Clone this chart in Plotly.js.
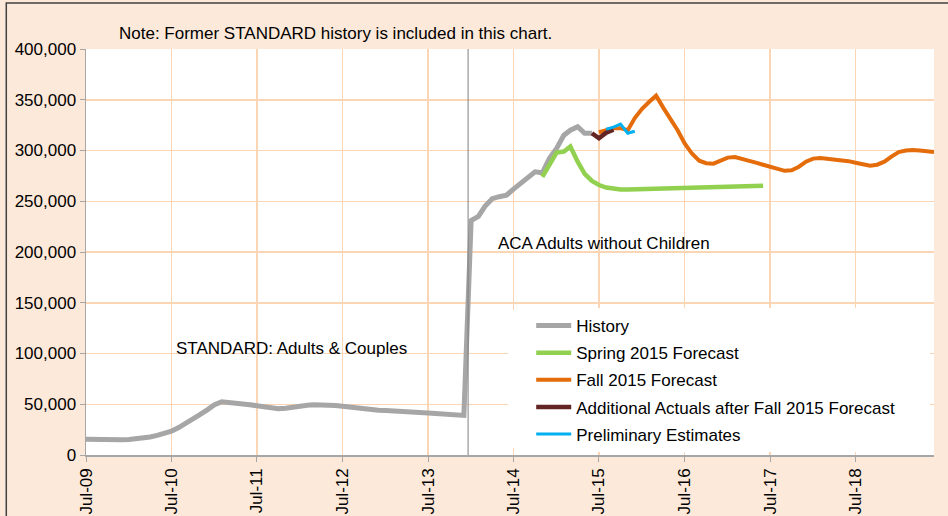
<!DOCTYPE html>
<html>
<head>
<meta charset="utf-8">
<script src="https://cdn.plot.ly/plotly-3.0.1.min.js"></script>
<style>html,body{margin:0;padding:0;background:#FDE9D9;}#chart{width:948px;height:516px;}</style>
</head>
<body>
<div id="chart"></div>
<script>
// Monthly categories, Jul-2009 .. Jun-2019
const months = [
 "2009-07","2009-08","2009-09","2009-10","2009-11","2009-12","2010-01","2010-02","2010-03","2010-04","2010-05","2010-06",
 "2010-07","2010-08","2010-09","2010-10","2010-11","2010-12","2011-01","2011-02","2011-03","2011-04","2011-05","2011-06",
 "2011-07","2011-08","2011-09","2011-10","2011-11","2011-12","2012-01","2012-02","2012-03","2012-04","2012-05","2012-06",
 "2012-07","2012-08","2012-09","2012-10","2012-11","2012-12","2013-01","2013-02","2013-03","2013-04","2013-05","2013-06",
 "2013-07","2013-08","2013-09","2013-10","2013-11","2013-12","2014-01","2014-02","2014-03","2014-04","2014-05","2014-06",
 "2014-07","2014-08","2014-09","2014-10","2014-11","2014-12","2015-01","2015-02","2015-03","2015-04","2015-05","2015-06",
 "2015-07","2015-08","2015-09","2015-10","2015-11","2015-12","2016-01","2016-02","2016-03","2016-04","2016-05","2016-06",
 "2016-07","2016-08","2016-09","2016-10","2016-11","2016-12","2017-01","2017-02","2017-03","2017-04","2017-05","2017-06",
 "2017-07","2017-08","2017-09","2017-10","2017-11","2017-12","2018-01","2018-02","2018-03","2018-04","2018-05","2018-06",
 "2018-07","2018-08","2018-09","2018-10","2018-11","2018-12","2019-01","2019-02","2019-03","2019-04","2019-05","2019-06"
];

// Series (values in caseload), each starts at the given month index
const historyStart = 0;
const historyVals = [
 15500,15200,15000,15000,15000,15100,15300,15800,16600,17800,19300,21000,
 23500,27000,31000,35500,40000,44500,49500,52500,52000,51200,50500,49500,
 48500,47200,46000,45500,46000,47200,48300,49000,49500,49500,49300,48800,
 48000,47000,46000,45000,44300,44000,43800,43600,43300,43000,42600,42200,
 41500,41000,40500,40000,39600,39000,231000,235000,245000,252500,254500,256000,
 262000,268000,273000,279000,278000,292000,302000,315000,320000,323500,317000,317000
];

const springStart = 64;
const springVals = [
 274000,286000,298000,299000,304000,289000,277000,270000,266000,263500,262000,261500,
 261600,261800,262000,262200,262400,262600,262800,263000,263200,263300,263500,263700,
 263900,264100,264300,264500,264600,264800,265000,265200
];

const fallStart = 72;
const fallVals = [
 318000,320000,322000,322000,320000,332000,341000,348000,354000,342000,331000,320000,
 307000,297000,290000,287500,287000,290000,293000,293500,292000,290000,288000,286000,
 284000,282000,280000,280500,284000,289000,292000,292500,292000,291500,290500,289500,
 288000,286500,285000,286000,289000,294000,298500,300000,300500,300000,299500,298500
];

const addlStart = 71;
const addlVals = [317000,312000,317500,320500];

const prelimStart = 73;
const prelimVals = [321000,323000,326000,317000,319000];

const yTicks = [0,50000,100000,150000,200000,250000,300000,350000,400000];

const seriesNames = ["History","Spring 2015 Forecast","Fall 2015 Forecast","Additional Actuals after Fall 2015 Forecast","Preliminary Estimates"];

const FONT = "Liberation Sans, Arial, sans-serif";
const FS = 17;

function xs(start, vals){ return months.slice(start, start + vals.length).map(m => m + "-01"); }

const traces = [
  {name: seriesNames[0], x: xs(historyStart, historyVals), y: historyVals, line: {color: "#A6A6A6", width: 5}},
  {name: seriesNames[1], x: xs(springStart, springVals), y: springVals, line: {color: "#92D050", width: 4.5}},
  {name: seriesNames[2], x: xs(fallStart, fallVals), y: fallVals, line: {color: "#E46C0A", width: 4}},
  {name: seriesNames[3], x: xs(addlStart, addlVals), y: addlVals, line: {color: "#632523", width: 4.5}},
  {name: seriesNames[4], x: xs(prelimStart, prelimVals), y: prelimVals, line: {color: "#00B0F0", width: 3}}
].map((t, i) => Object.assign({type: "scatter", mode: "lines", hoverinfo: "skip", legendgroup: "g" + i}, t));

const layout = {
  width: 948, height: 516,
  margin: {l: 86, r: 14, t: 49, b: 61},
  paper_bgcolor: "#FDE9D9",
  plot_bgcolor: "#FFFFFF",
  font: {family: FONT, size: FS, color: "#000000"},
  showlegend: true,
  legend: {
    x: 0.525, y: 0.362, xanchor: "left", yanchor: "top",
    bgcolor: "#FFFFFF", borderwidth: 0,
    font: {family: FONT, size: FS, color: "#000000"},
    itemwidth: 35,
    traceorder: "grouped",
    tracegroupgap: 2
  },
  xaxis: {
    type: "date",
    range: ["2009-07-01", "2019-06-01"],
    tick0: "2009-07-01", dtick: "M12", tickformat: "%b-%y",
    tickangle: -90,
    showgrid: true, gridcolor: "#FCD5B4", gridwidth: 1.5,
    showline: true, linecolor: "#A6A6A6", linewidth: 1.5,
    ticks: "outside", ticklen: 5, tickcolor: "#A6A6A6",
    zeroline: false,
    tickfont: {family: FONT, size: FS, color: "#000000"}
  },
  yaxis: {
    range: [0, 400000],
    tickvals: yTicks,
    tickformat: ",d",
    showgrid: true, gridcolor: "#FCD5B4", gridwidth: 1.5,
    showline: true, linecolor: "#A6A6A6", linewidth: 1.5,
    ticks: "outside", ticklen: 5, tickcolor: "#A6A6A6",
    zeroline: false,
    tickfont: {family: FONT, size: FS, color: "#000000"}
  },
  shapes: [
    {type: "rect", xref: "paper", yref: "paper", x0: 0.4976, x1: 0.995, y0: 0.0172, y1: 0.357,
     layer: "above", line: {width: 0}, fillcolor: "#FFFFFF"},
    {type: "line", xref: "x", yref: "y", x0: "2013-12-19", x1: "2013-12-19", y0: -7000, y1: 400000,
     line: {color: "#7F7F7F", width: 1}},
    {type: "rect", xref: "paper", yref: "paper", x0: -0.094, x1: 1.2, y0: -0.3, y1: 1.113,
     line: {color: "#404040", width: 1.5}, fillcolor: "rgba(0,0,0,0)"}
  ],
  annotations: [
    {text: "Note: Former STANDARD history is included in this chart.", xref: "paper", yref: "paper",
     x: 0.036, y: 1.039, xanchor: "left", yanchor: "middle", showarrow: false, font: {family: FONT, size: FS}},
    {text: "ACA Adults without Children", xref: "paper", yref: "paper",
     x: 0.483, y: 0.522, xanchor: "left", yanchor: "middle", showarrow: false, font: {family: FONT, size: FS}},
    {text: "STANDARD: Adults &amp; Couples", xref: "paper", yref: "paper",
     x: 0.104, y: 0.2635, xanchor: "left", yanchor: "middle", showarrow: false, font: {family: FONT, size: FS}}
  ]
};

Plotly.newPlot("chart", traces, layout, {displayModeBar: false, staticPlot: true});
</script>
</body>
</html>
